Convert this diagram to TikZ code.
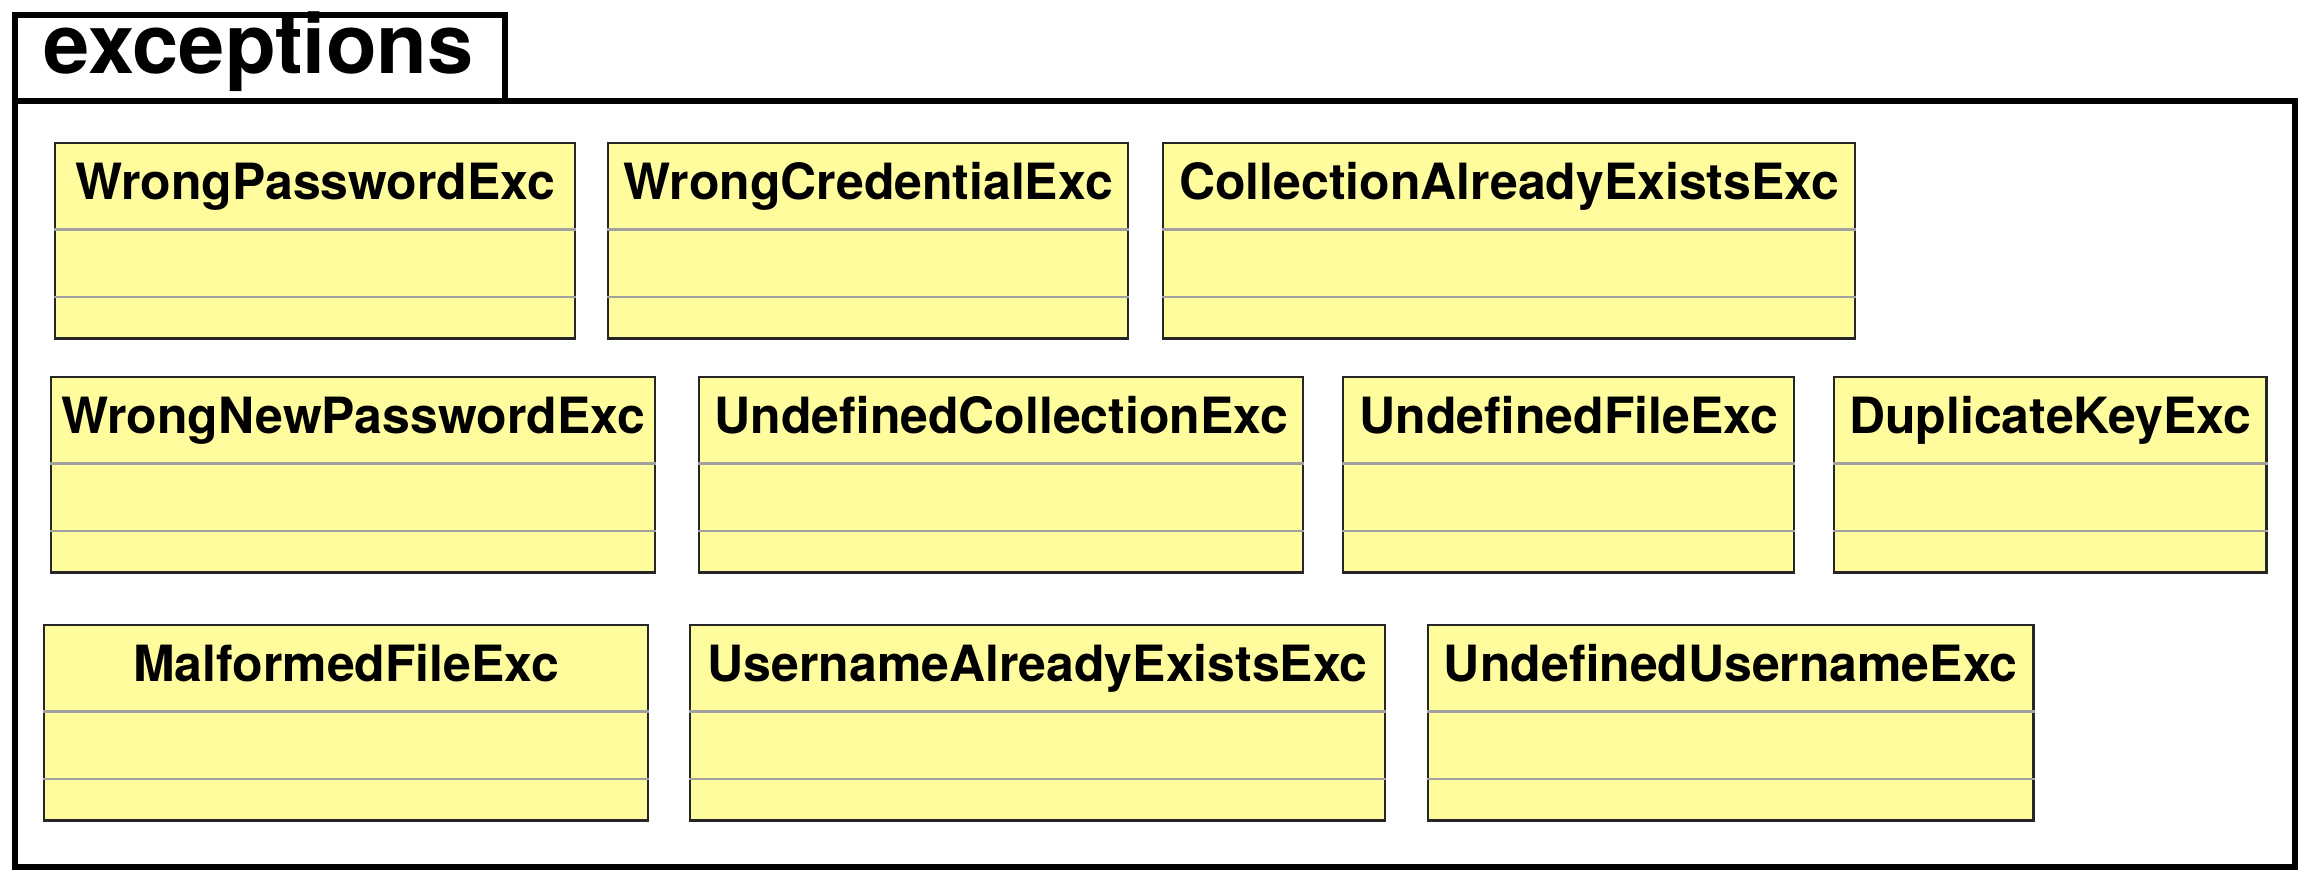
\documentclass[tikz,border=0pt]{standalone}
\usepackage{fontspec}
\setmainfont{TeX Gyre Heros}
\definecolor{classfill}{RGB}{255,252,158}
\definecolor{divgray}{RGB}{160,160,160}

\begin{document}
\begin{tikzpicture}[x=0.01cm,y=-0.01cm,
    pkgstyle/.style={draw=black,line width=1.6pt,anchor=north west,inner sep=0pt},
    classbox/.style={draw=black!85,fill=classfill,line width=0.7pt,anchor=north west,minimum height=1.95cm,inner sep=0pt},
    classname/.style={anchor=base,font=\bfseries\fontsize{14.2}{17}\selectfont},
    divider/.style={draw=divgray,line width=0.7pt}]
  \useasboundingbox (0,0) rectangle (2304,874);

  % package frame with its tab
  \node[pkgstyle,minimum width=22.79cm,minimum height=7.66cm] (pkg) at (12,98) {};
  \node[pkgstyle,minimum width=4.9cm,minimum height=0.86cm] (tab) at (12,12) {};
  \node[anchor=base west,inner sep=0pt,font=\bfseries\fontsize{23.6}{28}\selectfont] (title) at (43,74) {exceptions};

  \foreach \name/\x/\y/\w/\lbl in {
      wrongpw/54/142/520/WrongPasswordExc,
      wrongcred/607/142/520/WrongCredentialExc,
      collexists/1162/142/692/CollectionAlreadyExistsExc,
      wrongnewpw/50/376/604/WrongNewPasswordExc,
      undefcoll/698/376/604/UndefinedCollectionExc,
      undeffile/1342/376/451/UndefinedFileExc,
      dupkey/1833/376/432/DuplicateKeyExc,
      malformed/43/624/604/MalformedFileExc,
      userexists/689/624/695/UsernameAlreadyExistsExc,
      undefuser/1427/624/605/UndefinedUsernameExc}
  {
    \node[classbox,minimum width=\w*0.01cm] (\name) at (\x,\y) {};
    \node[classname] (\name-label) at ([yshift=-0.576cm]\name.north) {\lbl};
    \draw[divider] ([yshift=-0.875cm]\name.north west) -- ([yshift=-0.875cm]\name.north east);
    \draw[divider] ([yshift=-1.55cm]\name.north west) -- ([yshift=-1.55cm]\name.north east);
  }
\end{tikzpicture}
\end{document}
